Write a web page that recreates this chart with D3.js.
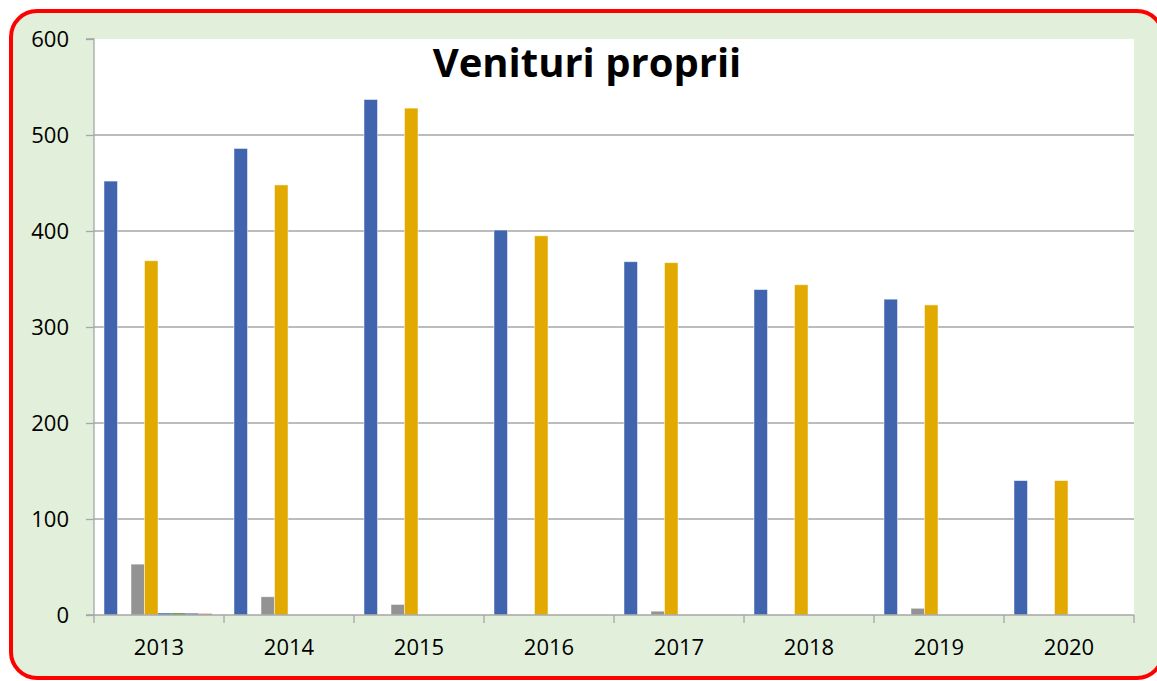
<!DOCTYPE html>
<html>
<head>
<meta charset="utf-8">
<script src="https://cdn.jsdelivr.net/npm/d3@7"></script>
<style>
  body { margin: 0; background: #ffffff; }
  svg { display: block; font-family: "Open Sans", Lato, sans-serif; }
</style>
</head>
<body>
<div class="chart"></div>
<script>
// years on the x axis
const years = ["2013", "2014", "2015", "2016", "2017", "2018", "2019", "2020"];
// one array per series
const seriesNames = ["s1", "s2", "s3", "s4", "s5", "s6", "s7", "s8"];
const s1 = [452, 486, 537, 401, 368, 339, 329, 140];
const s2 = [0, 0, 0, 0, 0, 0, 0, 0];
const s3 = [53, 19, 11, 0, 4, 0, 7, 0];
const s4 = [369, 448, 528, 395, 367, 344, 323, 140];
const s5 = [2, 0, 0, 0, 0, 0, 0, 0];
const s6 = [2, 0, 0, 0, 0, 0, 0, 0];
const s7 = [2, 0, 0, 0, 0, 0, 0, 0];
const s8 = [1.5, 0, 0, 0, 0, 0, 0, 0];
const yTicks = [0, 100, 200, 300, 400, 500, 600];
const colours = ["#4065ae", "#ed7d31", "#939393", "#e2aa00", "#5a86c2", "#6c9b46", "#8d9fcb", "#e0957e"];

const createChart = () => {
    const width = 1157, height = 681;
    const plot = {left: 94, right: 1134, top: 39, bottom: 615};
    const font = "'Open Sans', Lato, sans-serif";

    const svg = d3.select(".chart").append("svg")
        .attr("width", width)
        .attr("height", height);

    //outer frame: green fill with red rounded border
    svg.append("rect")
        .attr("x", 11).attr("y", 11)
        .attr("width", 1152).attr("height", 667)
        .attr("rx", 26).attr("ry", 26)
        .attr("fill", "#e2efda")
        .attr("stroke", "#ff0000")
        .attr("stroke-width", 4);

    //white plot area
    svg.append("rect")
        .attr("x", plot.left).attr("y", plot.top)
        .attr("width", plot.right - plot.left).attr("height", plot.bottom - plot.top)
        .attr("fill", "#ffffff");

    const x = d3.scaleBand()
        .domain(years)
        .range([plot.left, plot.right])
        .paddingInner(0)
        .paddingOuter(0);

    const xs = d3.scaleBand()
        .domain(seriesNames)
        .range([10, x.bandwidth() - 12]);

    const y = d3.scaleLinear()
        .domain([0, 600])
        .range([plot.bottom, plot.top]);

    //gridlines
    svg.append("g")
        .selectAll("line")
        .data(yTicks.filter(t => t > 0 && t < 600))
        .enter().append("line")
        .attr("x1", plot.left).attr("x2", plot.right)
        .attr("y1", d => y(d)).attr("y2", d => y(d))
        .attr("stroke", "#a6a6a6")
        .attr("stroke-width", 1.3);

    //bars
    const allSeries = [s1, s2, s3, s4, s5, s6, s7, s8];
    const barData = [];
    years.forEach((yr, i) => {
        allSeries.forEach((s, j) => {
            barData.push({year: yr, series: seriesNames[j], value: s[i], colour: colours[j]});
        });
    });

    svg.append("g")
        .selectAll("rect")
        .data(barData.filter(d => d.value > 0))
        .enter().append("rect")
        .attr("x", d => x(d.year) + xs(d.series))
        .attr("y", d => y(d.value))
        .attr("width", xs.bandwidth())
        .attr("height", d => y(0) - y(d.value))
        .attr("fill", d => d.colour)
        //thin light edge only on the taller bars, tiny ones stay solid
        .attr("stroke", d => d.value > 3 ? "#ffffff" : "none")
        .attr("stroke-opacity", 0.6)
        .attr("stroke-width", 0.8);

    //y axis
    const yAxis = svg.append("g")
        .attr("transform", `translate(${plot.left},0)`)
        .call(d3.axisLeft(y).tickValues(yTicks).tickSize(8).tickPadding(17));
    yAxis.attr("font-family", font);
    yAxis.select(".domain").attr("stroke", "#a6a6a6").attr("stroke-width", 1.3)
        .attr("d", `M-8,${plot.top}H0V${plot.bottom + 8}`);
    yAxis.selectAll(".tick line").attr("stroke", "#a6a6a6").attr("stroke-width", 1.3);
    yAxis.selectAll(".tick text").attr("font-size", "22px").attr("fill", "#000000");

    //x axis
    const xAxis = svg.append("g")
        .attr("transform", `translate(0,${plot.bottom})`)
        .call(d3.axisBottom(x).tickSize(0).tickPadding(24));
    xAxis.attr("font-family", font);
    xAxis.select(".domain").attr("stroke", "#a6a6a6").attr("stroke-width", 1.3)
        .attr("d", `M${plot.left - 8},0H${plot.right}`);
    xAxis.selectAll(".tick text").attr("font-size", "22px").attr("fill", "#000000");

    //category separator ticks
    svg.append("g")
        .selectAll("line")
        .data(years.slice(1).concat(["end"]))
        .enter().append("line")
        .attr("x1", d => d === "end" ? plot.right : x(d))
        .attr("x2", d => d === "end" ? plot.right : x(d))
        .attr("y1", plot.bottom).attr("y2", plot.bottom + 8)
        .attr("stroke", "#a6a6a6")
        .attr("stroke-width", 1.3);

    //title
    svg.append("text")
        .text("Venituri proprii")
        .attr("x", 587).attr("y", 77)
        .attr("text-anchor", "middle")
        .attr("font-family", font)
        .attr("font-size", "40px")
        .attr("font-weight", "bold")
        .attr("fill", "#000000");
};

createChart();
</script>
</body>
</html>
